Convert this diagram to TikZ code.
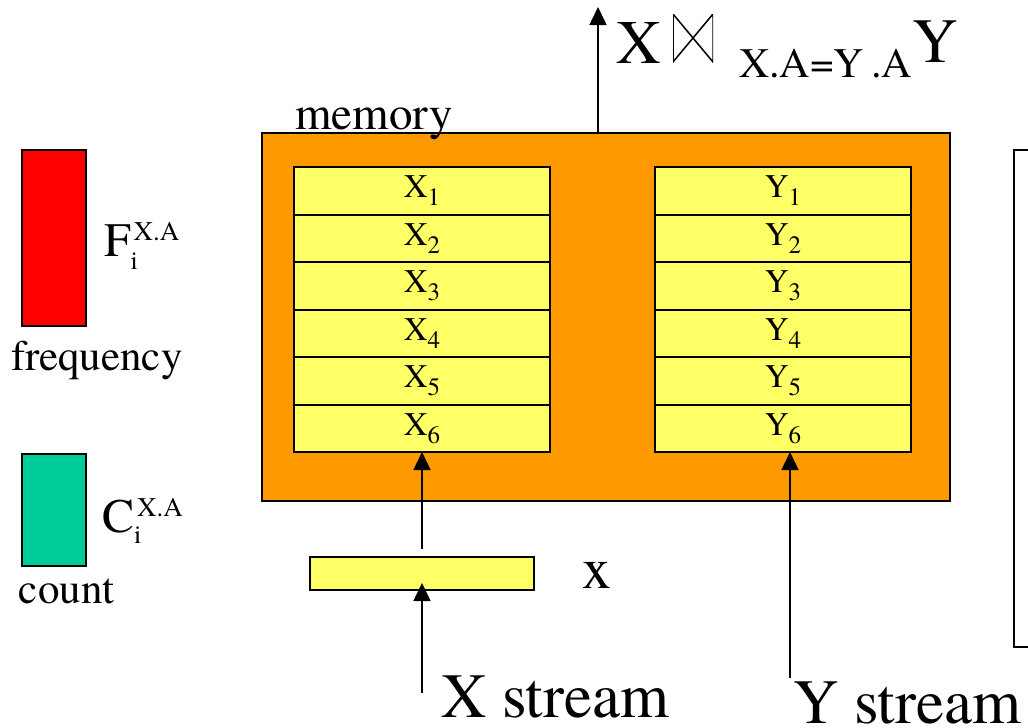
\documentclass[tikz,border=0pt]{standalone}
\usepackage{fontspec}
\setmainfont{texgyretermes}[Extension=.otf,UprightFont=*-regular,BoldFont=*-bold,ItalicFont=*-italic,BoldItalicFont=*-bolditalic]
\usetikzlibrary{arrows.meta}
\definecolor{memorange}{HTML}{FF9900}
\definecolor{rowyellow}{HTML}{FFFF66}
\definecolor{freqred}{HTML}{FF0000}
\definecolor{countgreen}{HTML}{00CC99}
\newcommand{\fsz}[1]{\fontsize{#1}{#1}\selectfont}
\begin{document}
\begin{tikzpicture}[x=1pt,y=-1pt,
  every node/.style={inner sep=0pt,outer sep=0pt},
  box/.style={draw=black,line width=2pt,rectangle},
  row/.style={box,fill=rowyellow,minimum width=256pt,minimum height=47.5pt,font=\fsz{33}},
  lbl/.style={anchor=base west},
  arr/.style={line width=1.6pt,-{Triangle[length=18pt,width=17pt]}},
  bowtie/.style={minimum width=40pt,minimum height=48pt,
    path picture={\draw[line width=1.5pt,line join=miter]
      (path picture bounding box.north west) -- (path picture bounding box.south west)
      -- (path picture bounding box.north east) -- (path picture bounding box.south east) -- cycle;}}]
\useasboundingbox (0,0) rectangle (1028,728);
\clip (0,0) rectangle (1028,728);
% memory block
\node[box,fill=memorange,minimum width=688pt,minimum height=368pt] (mem) at (606,317) {};
\node[lbl,font=\fsz{47}] (memlbl) at (295,129) {memory};
% stacks
\foreach \i in {1,...,6}{
  \node[row] (x\i) at (422,{167+47.5*(\i-0.5)}) {X\raisebox{-8pt}{\fsz{25}\i}};
  \node[row] (y\i) at (783,{167+47.5*(\i-0.5)}) {Y\raisebox{-8pt}{\fsz{25}\i}};
}
% result arrow and title
\coordinate (top) at (598,7);
\draw[arr] (598,133) -- (top);
\node[lbl,font=\fsz{62}] (tX) at (616,63) {X};
\node[bowtie] (bow) at (693,38) {};
\node[lbl,font=\fsz{42}] (cond) at (739,77) {X.A=Y\,.A};
\node[lbl,font=\fsz{63}] (tY) at (912,62) {Y};
% input tuple
\node[box,line width=1.6pt,fill=rowyellow,minimum width=224pt,minimum height=33pt] (xb) at (422,573.5) {};
\node[lbl,font=\fsz{58}] (xlbl) at (582,588) {x};
\draw[arr] ([yshift=8pt]xb.north) -- (x6.south);
\coordinate (xs) at (422,693);
\draw[arr] (xs) -- ([yshift=7pt]xb.south);
\node[lbl,font=\fsz{63}] (xstream) at (441,717) {X stream};
\coordinate (ys) at (790,678);
\draw[arr] (ys) -- (y6.south -| ys);
\node[lbl,font=\fsz{63}] (ystream) at (793,723) {Y stream};
% right box (partially visible)
\node[box,minimum width=60pt,minimum height=497pt,anchor=north west] (rbox) at (1014,150) {};
% legend
\node[box,line width=1.4pt,fill=freqred,minimum width=64pt,minimum height=176pt,anchor=north west] (fbox) at (22,150) {};
\node[lbl,font=\fsz{48}] (flbl) at (104,256) {F\rlap{\raisebox{-13pt}{\fsz{26}i}}\hspace{3pt}\raisebox{16pt}{\fsz{27}X.A}};
\node[lbl,font=\fsz{43}] (freq) at (11,370) {frequency};
\node[box,line width=1.4pt,fill=countgreen,minimum width=64pt,minimum height=112pt,anchor=north west] (cbox) at (22,454) {};
\node[lbl,font=\fsz{48}] (clbl) at (102,532) {C\rlap{\raisebox{-11pt}{\fsz{26}i}}\hspace{3pt}\raisebox{16pt}{\fsz{27}X.A}};
\node[lbl,font=\fsz{43}] (count) at (19,603) {count};
\end{tikzpicture}
\end{document}
